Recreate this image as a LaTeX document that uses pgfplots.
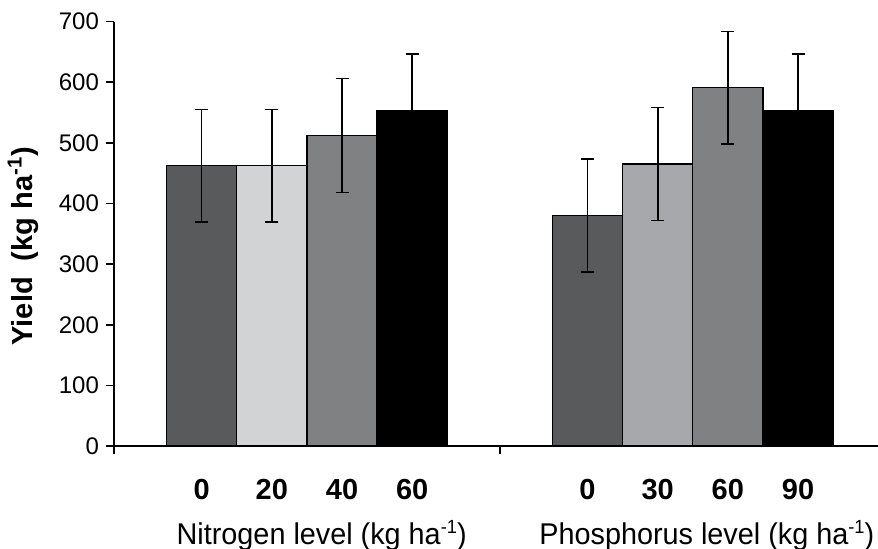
\documentclass[border=0pt]{standalone}
\usepackage{pgfplots}
\pgfplotsset{compat=1.18}
\usepackage{fontspec}
\setmainfont{Liberation Sans}
\newfontfamily\narrowfont[FakeStretch=0.96]{Liberation Sans}
\definecolor{cA}{HTML}{595A5C}
\definecolor{cB}{HTML}{D2D3D5}
\definecolor{cBb}{HTML}{A7A8AB}
\definecolor{cC}{HTML}{808183}
\definecolor{cD}{HTML}{000000}
\newcommand{\supm}{\raisebox{5.8pt}{\fontsize{9.5}{9.5}\selectfont -1}}
\begin{document}
\begin{tikzpicture}
\begin{axis}[
  scale only axis, width=382pt, height=212.2pt,
  xmin=0, xmax=10.89, ymin=0, ymax=700,
  axis x line=bottom, axis y line=left,
  axis line style={-, line width=0.8pt},
  tick align=outside, major tick length=4pt,
  tick style={line width=0.8pt, black},
  ytick={0,100,...,700},
  /pgf/number format/assume math mode=true,
  yticklabel style={font=\fontsize{12}{14}\selectfont},
  xtick={0,5.5,11}, xticklabels={},
  extra x ticks={1.25,2.25,3.25,4.25,6.75,7.75,8.75,9.75},
  extra x tick labels={0,20,40,60,0,30,60,90},
  extra x tick style={major tick length=0pt,
    xticklabel style={font=\bfseries\fontsize{14.5}{17}\selectfont, anchor=base, yshift=-27pt}},
  ylabel={\bfseries Yield\ \ (kg ha\textsuperscript{-1})},
  ylabel style={at={(axis description cs:-0.1191,0.471)}, anchor=center, font=\fontsize{14.5}{17}\selectfont},
  ybar, bar width=1, bar shift=0pt,
  every axis plot/.append style={draw=black, line width=0.6pt},
  error bars/error bar style={line width=0.8pt, black},
  error bars/error mark options={rotate=90, mark size=3.25pt, line width=0.8pt, black},
  clip=false,
]
\addplot[fill=cA, error bars/.cd, y dir=both, y explicit] coordinates {(1.25,462) +- (0,93) (6.75,380) +- (0,93)};
\addplot[fill=cB, error bars/.cd, y dir=both, y explicit] coordinates {(2.25,462) +- (0,93)};
\addplot[fill=cBb, error bars/.cd, y dir=both, y explicit] coordinates {(7.75,465) +- (0,93)};
\addplot[fill=cC, error bars/.cd, y dir=both, y explicit] coordinates {(3.25,512) +- (0,94) (8.75,591) +- (0,93)};
\addplot[fill=cD, error bars/.cd, y dir=both, y explicit] coordinates {(4.25,553) +- (0,94) (9.75,554) +- (0,93)};
\node[anchor=base, font=\narrowfont\fontsize{15}{18}\selectfont] at (axis cs:2.96,0) [yshift=-49.5pt] {Nitrogen level (kg ha\supm)};
\node[anchor=base, font=\narrowfont\fontsize{15}{18}\selectfont] at (axis cs:8.45,0) [yshift=-49.5pt] {Phosphorus level (kg ha\supm)};
\end{axis}
\pgfresetboundingbox
\path (current axis.south west) ++(-57pt,-51.5pt) rectangle ++(439pt,274.5pt);
\end{tikzpicture}
\end{document}
